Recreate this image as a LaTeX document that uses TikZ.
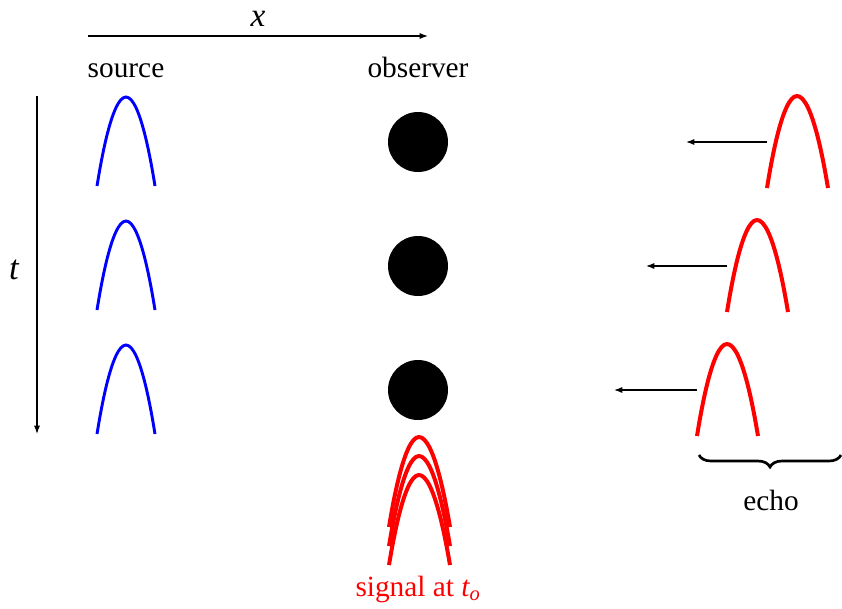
\documentclass[tikz,border=0pt]{standalone}
\usepackage{fontspec}
\setmainfont{Liberation Serif}
\usetikzlibrary{arrows.meta, decorations.pathreplacing}
\definecolor{pulsBlau}{HTML}{0000FF}
\definecolor{pulsRot}{HTML}{FF0000}

\begin{document}
\begin{tikzpicture}[x=0.75pt, y=-0.75pt, font=\fontsize{22}{26}\selectfont, >=Latex,
        achse/.style={-{Latex[length=2.2mm, width=1.6mm]}, line width=0.9pt},
        quelle/.style={pulsBlau, line width=2.2pt},
        echo/.style={pulsRot, line width=3pt},
        lauf/.style={-{Latex[length=2.2mm, width=1.6mm]}, line width=0.8pt},
        beob/.style={circle, fill=black, minimum size=45pt, inner sep=0pt}]
    \useasboundingbox (0,0) rectangle (842,608);
    % Achsen
    \coordinate (x0) at (88,36);
    \coordinate (x1) at (428,36);
    \draw[achse] (x0) -- (x1);
    \node[anchor=base, inner sep=0pt] (xl) at (258,26) {\fontsize{25}{28}\selectfont\itshape x};
    \node[anchor=base] (src) at (126,77) {source};
    \node[anchor=base] (obs) at (418,77) {observer};
    \coordinate (t0) at (37,96);
    \coordinate (t1) at (37,434);
    \draw[achse] (t0) -- (t1);
    \node[anchor=base] (tl) at (14,279) {\fontsize{26}{30}\selectfont\itshape t};
    % Quelle und Beobachter
    \foreach \y/\n in {97/1, 221/2, 345/3} {
        \draw[quelle] (97,\y+89) parabola bend (126,\y) (155,\y+89);
        \node[beob] (b\n) at (418,\y+45) {};
    }
    % Echos
    \foreach \xa/\y/\xe/\n in {767/96/686/1, 727/220/646/2, 697/344/614/3} {
        \draw[echo] (\xa,\y+92) parabola bend (\xa+30,\y) (\xa+61,\y+92);
        \coordinate (ea\n) at (\xa,\y+46);
        \coordinate (ee\n) at (\xe,\y+46);
        \draw[lauf] (ea\n) -- (ee\n);
    }
    \draw[decorate, decoration={brace, mirror, amplitude=9pt}, line width=2pt]
        (699,455) -- (841,455);
    \node[anchor=base] (ech) at (771,510) {echo};
    % Signal beim Beobachter
    \foreach \y in {437, 456, 475}
        \draw[echo] (389,\y+90) parabola bend (419,\y) (450,\y+90);
    \node[anchor=base, text=pulsRot] (sig) at (418,596) {signal at \textit{t\textsubscript{o}}};
\end{tikzpicture}
\end{document}
